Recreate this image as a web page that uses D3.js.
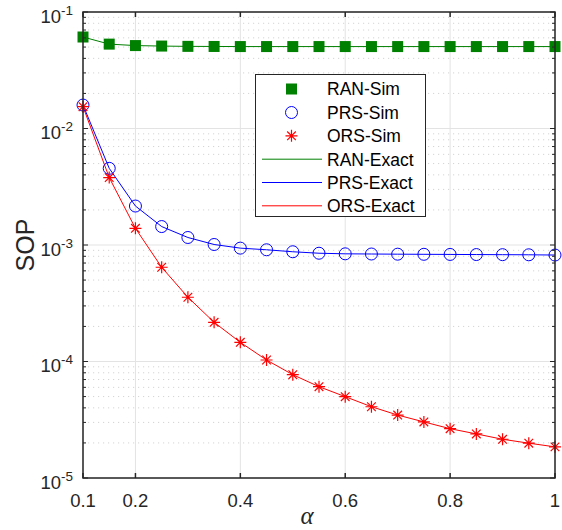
<!DOCTYPE html>
<html>
<head>
<meta charset="utf-8">
<script src="https://cdn.jsdelivr.net/npm/d3@7"></script>
<style>
	body { margin: 0; background: #ffffff; }
	svg { display: block; font-family: "Liberation Sans", Arial, sans-serif; }
</style>
</head>
<body>
<div id="div_id_main"></div>
<script>

var vAlpha = [0.1, 0.15, 0.2, 0.25, 0.3, 0.35, 0.4, 0.45, 0.5, 0.55, 0.6, 0.65, 0.7, 0.75, 0.8, 0.85, 0.9, 0.95, 1.0];

var vSOP_RAN = [0.061, 0.053, 0.0515, 0.051, 0.0507, 0.0506, 0.0505, 0.0505, 0.0505, 0.0505, 0.0505, 0.0505, 0.0505, 0.0505, 0.0505, 0.0505, 0.0505, 0.0505, 0.0505];
var vSOP_PRS = [0.0159, 0.00455, 0.00216, 0.00144, 0.00116, 0.00101, 0.00094, 0.00091, 0.000875, 0.00085, 0.00084, 0.000837, 0.000834, 0.000832, 0.00083, 0.000828, 0.000826, 0.000824, 0.00082];
var vSOP_ORS = [0.0154, 0.00379, 0.00139, 0.000644, 0.000356, 0.000217, 0.000146, 0.000103, 0.0000771, 0.0000608, 0.0000499, 0.0000409, 0.0000347, 0.0000303, 0.0000265, 0.0000239, 0.0000215, 0.0000199, 0.0000185];

var vXTicks = [0.1, 0.2, 0.4, 0.6, 0.8, 1];
var vXTickLabels = ["0.1", "0.2", "0.4", "0.6", "0.8", "1"];
var vYExponents = [-5, -4, -3, -2, -1];

var vLegendNames = ["RAN-Sim", "PRS-Sim", "ORS-Sim", "RAN-Exact", "PRS-Exact", "ORS-Exact"];

var WIDTH = 562;
var HEIGHT = 530;
var PLOT_LEFT = 83;
var PLOT_RIGHT = 555;
var PLOT_TOP = 12;
var PLOT_BOTTOM = 478;

var COLOR_AXIS = "#262626";

var fScale_X = d3.scaleLinear()
					.domain([0.1, 1])
					.range([PLOT_LEFT, PLOT_RIGHT]);

var fScale_Y = d3.scaleLog()
					.domain([1e-5, 1e-1])
					.range([PLOT_BOTTOM, PLOT_TOP]);

function funcStarPath(r) {

	let d = r * 0.72;

	return "M" + (-r) + ",0L" + r + ",0" +
		   "M0," + (-r) + "L0," + r +
		   "M" + (-d) + "," + (-d) + "L" + d + "," + d +
		   "M" + (-d) + "," + d + "L" + d + "," + (-d);
}

function funcDraw_Grid(svgMain) {

	let gGrid = svgMain.append("g");

	// minor y grid (dotted)
	for (let e = -5; e < -1; e++) {

		for (let k = 2; k <= 9; k++) {

			let y = fScale_Y(k * Math.pow(10, e));

			gGrid.append("line")
					.attr("x1", PLOT_LEFT)
					.attr("x2", PLOT_RIGHT)
					.attr("y1", y)
					.attr("y2", y)
					.attr("stroke", "#d4d4d4")
					.attr("stroke-width", 1)
					.attr("stroke-dasharray", "1.2,3.8");
		}
	}

	// major grid
	gGrid.selectAll("line.line_class_grid_y")
			.data(vYExponents)
			.enter()
			.append("line")
				.attr("class", "line_class_grid_y")
				.attr("x1", PLOT_LEFT)
				.attr("x2", PLOT_RIGHT)
				.attr("y1", function (d) { return fScale_Y(Math.pow(10, d)); })
				.attr("y2", function (d) { return fScale_Y(Math.pow(10, d)); })
				.attr("stroke", "#e3e3e3")
				.attr("stroke-width", 1);

	gGrid.selectAll("line.line_class_grid_x")
			.data(vXTicks)
			.enter()
			.append("line")
				.attr("class", "line_class_grid_x")
				.attr("x1", function (d) { return fScale_X(d); })
				.attr("x2", function (d) { return fScale_X(d); })
				.attr("y1", PLOT_TOP)
				.attr("y2", PLOT_BOTTOM)
				.attr("stroke", "#e3e3e3")
				.attr("stroke-width", 1);
}

function funcDraw_Axes(svgMain) {

	let gAxis = svgMain.append("g");

	// x ticks (bottom & top, inward)
	for (let i = 0; i < vXTicks.length; i++) {

		let x = fScale_X(vXTicks[i]);

		gAxis.append("line")
				.attr("x1", x).attr("x2", x)
				.attr("y1", PLOT_BOTTOM).attr("y2", PLOT_BOTTOM - 5)
				.attr("stroke", COLOR_AXIS).attr("stroke-width", 1.5);

		gAxis.append("line")
				.attr("x1", x).attr("x2", x)
				.attr("y1", PLOT_TOP).attr("y2", PLOT_TOP + 5)
				.attr("stroke", COLOR_AXIS).attr("stroke-width", 1.5);

		gAxis.append("text")
				.attr("x", x)
				.attr("y", PLOT_BOTTOM + 29)
				.attr("text-anchor", "middle")
				.attr("font-size", "18.5px")
				.attr("fill", COLOR_AXIS)
				.text(vXTickLabels[i]);
	}

	// y ticks, major and minor (left & right, inward)
	for (let e = -5; e <= -1; e++) {

		for (let k = 1; k <= 9; k++) {

			if (e == -1 && k > 1)
				continue;

			let y = fScale_Y(k * Math.pow(10, e));
			let nLen = (k == 1) ? 5 : 3;

			gAxis.append("line")
					.attr("x1", PLOT_LEFT).attr("x2", PLOT_LEFT + nLen)
					.attr("y1", y).attr("y2", y)
					.attr("stroke", COLOR_AXIS).attr("stroke-width", 1);

			gAxis.append("line")
					.attr("x1", PLOT_RIGHT).attr("x2", PLOT_RIGHT - nLen)
					.attr("y1", y).attr("y2", y)
					.attr("stroke", COLOR_AXIS).attr("stroke-width", 1);
		}
	}

	let textY = gAxis.selectAll("text.text_class_y_tick")
						.data(vYExponents)
						.enter()
						.append("text")
							.attr("class", "text_class_y_tick")
							.attr("x", PLOT_LEFT - 10)
							.attr("y", function (d) { return fScale_Y(Math.pow(10, d)) + 10.5; })
							.attr("text-anchor", "end")
							.attr("font-size", "18.5px")
							.attr("fill", COLOR_AXIS);

	textY.append("tspan").text("10");
	textY.append("tspan")
			.attr("dy", -8)
			.attr("font-size", "13.5px")
			.text(function (d) { return d; });

	// box
	gAxis.append("rect")
			.attr("x", PLOT_LEFT)
			.attr("y", PLOT_TOP)
			.attr("width", PLOT_RIGHT - PLOT_LEFT)
			.attr("height", PLOT_BOTTOM - PLOT_TOP)
			.attr("fill", "none")
			.attr("stroke", COLOR_AXIS)
			.attr("stroke-width", 1.5);

	// axis titles
	gAxis.append("text")
			.attr("transform", "translate(34," + ((PLOT_TOP + PLOT_BOTTOM) / 2) + ") rotate(-90)")
			.attr("text-anchor", "middle")
			.attr("font-size", "25px")
			.attr("fill", COLOR_AXIS)
			.text("SOP");

	gAxis.append("text")
			.attr("x", 307)
			.attr("y", 524)
			.attr("text-anchor", "middle")
			.attr("font-family", "'Liberation Serif', serif")
			.attr("font-style", "italic")
			.attr("font-size", "25px")
			.attr("fill", COLOR_AXIS)
			.text("α");
}

function funcDraw_Series(svgMain) {

	let line = d3.line()
					.x(function (d, i) { return fScale_X(vAlpha[i]); })
					.y(function (d) { return fScale_Y(d); });

	let gSeries = svgMain.append("g");

	gSeries.append("path").attr("d", line(vSOP_RAN)).attr("fill", "none").attr("stroke", "#008000").attr("stroke-width", 1);
	gSeries.append("path").attr("d", line(vSOP_PRS)).attr("fill", "none").attr("stroke", "#0000ff").attr("stroke-width", 1);
	gSeries.append("path").attr("d", line(vSOP_ORS)).attr("fill", "none").attr("stroke", "#ff0000").attr("stroke-width", 1);

	gSeries.selectAll("rect.rect_class_ran")
			.data(vSOP_RAN)
			.enter()
			.append("rect")
				.attr("class", "rect_class_ran")
				.attr("x", function (d, i) { return fScale_X(vAlpha[i]) - 5.5; })
				.attr("y", function (d) { return fScale_Y(d) - 5.5; })
				.attr("width", 11)
				.attr("height", 11)
				.attr("fill", "#008000");

	gSeries.selectAll("circle.circle_class_prs")
			.data(vSOP_PRS)
			.enter()
			.append("circle")
				.attr("class", "circle_class_prs")
				.attr("cx", function (d, i) { return fScale_X(vAlpha[i]); })
				.attr("cy", function (d) { return fScale_Y(d); })
				.attr("r", 6)
				.attr("fill", "none")
				.attr("stroke", "#0000ff")
				.attr("stroke-width", 1);

	gSeries.selectAll("path.path_class_ors")
			.data(vSOP_ORS)
			.enter()
			.append("path")
				.attr("class", "path_class_ors")
				.attr("d", funcStarPath(6))
				.attr("transform", function (d, i) { return "translate(" + fScale_X(vAlpha[i]) + "," + fScale_Y(d) + ")"; })
				.attr("fill", "none")
				.attr("stroke", "#ff0000")
				.attr("stroke-width", 1.2);
}

function funcDraw_Legend(svgMain) {

	let gLegend = svgMain.append("g");

	gLegend.append("rect")
			.attr("x", 255.5)
			.attr("y", 74.5)
			.attr("width", 170)
			.attr("height", 142)
			.attr("fill", "#ffffff")
			.attr("stroke", COLOR_AXIS)
			.attr("stroke-width", 1);

	let vRowY = [89, 112.5, 135.8, 159.2, 182.5, 205.8];
	let vColors = ["#008000", "#0000ff", "#ff0000", "#008000", "#0000ff", "#ff0000"];
	let symX = 291.5;

	gLegend.append("rect")
			.attr("x", symX - 5.5).attr("y", vRowY[0] - 5.5)
			.attr("width", 11).attr("height", 11)
			.attr("fill", vColors[0]);

	gLegend.append("circle")
			.attr("cx", symX).attr("cy", vRowY[1]).attr("r", 6)
			.attr("fill", "none").attr("stroke", vColors[1]).attr("stroke-width", 1);

	gLegend.append("path")
			.attr("d", funcStarPath(6))
			.attr("transform", "translate(" + symX + "," + vRowY[2] + ")")
			.attr("fill", "none").attr("stroke", vColors[2]).attr("stroke-width", 1.2);

	for (let i = 3; i < 6; i++) {

		gLegend.append("line")
				.attr("x1", 262).attr("x2", 322)
				.attr("y1", vRowY[i]).attr("y2", vRowY[i])
				.attr("stroke", vColors[i]).attr("stroke-width", 1);
	}

	gLegend.selectAll("text")
			.data(vLegendNames)
			.enter()
			.append("text")
				.attr("x", 327)
				.attr("y", function (d, i) { return vRowY[i] + 6.3; })
				.attr("font-size", "17.5px")
				.attr("fill", "#000000")
				.text(function (d) { return d; });
}

function funcDraw_Main() {

	let svgMain = d3.select("#div_id_main")
					.append("svg")
						.attr("width", WIDTH)
						.attr("height", HEIGHT);

	svgMain.append("rect")
				.attr("width", WIDTH)
				.attr("height", HEIGHT)
				.attr("fill", "#ffffff");

	funcDraw_Grid(svgMain);
	funcDraw_Series(svgMain);
	funcDraw_Axes(svgMain);
	funcDraw_Legend(svgMain);
}

funcDraw_Main();

</script>
</body>
</html>
